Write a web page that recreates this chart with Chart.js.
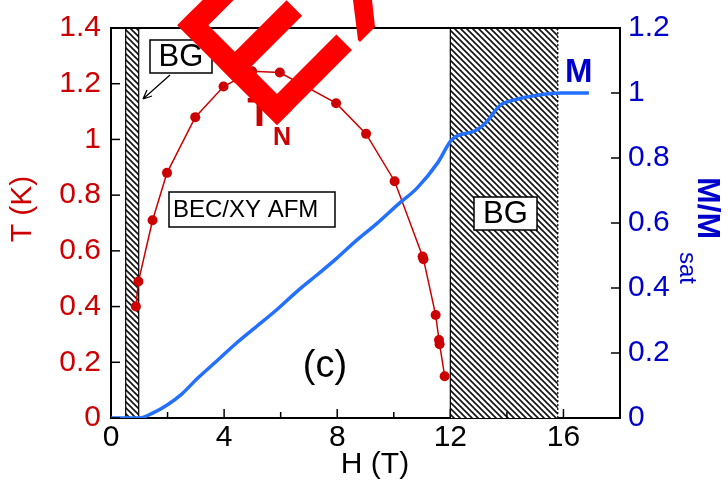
<!DOCTYPE html>
<html>
<head>
<meta charset="utf-8">
<script src="https://cdn.jsdelivr.net/npm/chart.js@4/dist/chart.umd.min.js"></script>
<style>
  body { margin: 0; background: #fff; }
  canvas { display: block; }
</style>
</head>
<body>
<canvas id="phaseChart" width="728" height="485"></canvas>
<script>
// Néel temperature points, T_N (K) vs field H (T)
const fieldT = [0.88, 0.97, 1.47, 1.98, 2.98, 3.98, 4.99, 5.97, 7.96, 9.02, 10.03, 11.02, 11.05, 11.48, 11.6, 11.62, 11.8];
const tempT  = [0.40, 0.49, 0.71, 0.88, 1.08, 1.19, 1.245, 1.24, 1.13, 1.02, 0.85, 0.58, 0.57, 0.37, 0.28, 0.265, 0.15];

// magnetization curve, M/Msat vs H (T)
const fieldM = [0, 1.0, 1.47, 2.0, 2.48, 3.07, 3.72, 4.43, 5.14, 5.86, 6.57, 7.28, 7.99, 8.7, 9.41, 10.12, 10.83, 11.55, 12.05, 12.93, 13.28, 13.76, 14.24, 15.07, 15.89, 16.9];
const magM   = [0, 0, 0.015, 0.041, 0.072, 0.123, 0.174, 0.230, 0.281, 0.333, 0.389, 0.440, 0.492, 0.548, 0.599, 0.655, 0.708, 0.785, 0.856, 0.886, 0.911, 0.962, 0.978, 0.993, 1.0, 1.0];

// Bose glass field ranges (T)
const bgRegions = [[0.52, 0.98], [12.0, 15.8]];

const xMajor = [0, 4, 8, 12, 16];

const FONT = "'Liberation Sans', Arial, sans-serif";
const RED = '#cc0000';
const BLUE = '#0000cc';

// hatch tile for the BG bands
function makeHatch() {
    const c = document.createElement('canvas');
    c.width = 6; c.height = 6;
    const g = c.getContext('2d');
    g.fillStyle = '#fff';
    g.fillRect(0, 0, 6, 6);
    g.strokeStyle = '#111';
    g.lineWidth = 1.6;
    for (let k = -1; k <= 1; k++) {
        g.beginPath();
        g.moveTo(k * 6 - 1, -1);
        g.lineTo(k * 6 + 7, 7);
        g.stroke();
    }
    return c;
}
const hatchTile = makeHatch();

function boxText(ctx, x, y, w, h, text, size, align) {
    ctx.fillStyle = '#fff';
    ctx.fillRect(x, y, w, h);
    ctx.strokeStyle = '#000';
    ctx.lineWidth = 1.5;
    ctx.strokeRect(x, y, w, h);
    ctx.fillStyle = '#000';
    ctx.font = size + 'px ' + FONT;
    ctx.textBaseline = 'middle';
    if (align === 'left') {
        ctx.textAlign = 'left';
        ctx.fillText(text, x + 4, y + h / 2 + 1);
    } else {
        ctx.textAlign = 'center';
        ctx.fillText(text, x + w / 2, y + h / 2 + 1);
    }
}

const bandsPlugin = {
    id: 'bands',
    beforeDatasetsDraw(chart) {
        const ctx = chart.ctx;
        const a = chart.chartArea;
        const xs = chart.scales.x;
        ctx.save();
        const pat = ctx.createPattern(hatchTile, 'repeat');
        bgRegions.forEach((r, i) => {
            const x0 = xs.getPixelForValue(r[0]);
            const x1 = xs.getPixelForValue(r[1]);
            ctx.fillStyle = pat;
            ctx.fillRect(x0, a.top, x1 - x0, a.bottom - a.top);
            ctx.strokeStyle = '#000';
            ctx.lineWidth = 1.2;
            ctx.beginPath();
            ctx.moveTo(x0, a.top); ctx.lineTo(x0, a.bottom);
            ctx.stroke();
            if (i === 1) ctx.setLineDash([2, 2]);
            ctx.beginPath();
            ctx.moveTo(x1, a.top); ctx.lineTo(x1, a.bottom);
            ctx.stroke();
            ctx.setLineDash([]);
        });
        ctx.restore();
    },
    afterDraw(chart) {
        const ctx = chart.ctx;
        const a = chart.chartArea;
        const {x: xs, y: ys, y1: ys1} = chart.scales;
        ctx.save();

        // frame top line
        ctx.strokeStyle = '#000';
        ctx.lineWidth = 2;
        ctx.beginPath();
        ctx.moveTo(a.left, a.top); ctx.lineTo(a.right, a.top);
        ctx.stroke();

        // inward tick marks
        ctx.lineWidth = 1.5;
        xs.ticks.forEach(t => {
            if (t.value <= 0 || t.value >= 18) return;
            const px = xs.getPixelForValue(t.value);
            const len = xMajor.includes(t.value) ? 9 : 6;
            ctx.beginPath(); ctx.moveTo(px, a.bottom); ctx.lineTo(px, a.bottom - len); ctx.stroke();
        });
        ys.ticks.forEach(t => {
            const py = ys.getPixelForValue(t.value);
            ctx.beginPath(); ctx.moveTo(a.left, py); ctx.lineTo(a.left + 9, py); ctx.stroke();
        });
        ys1.ticks.forEach(t => {
            const py = ys1.getPixelForValue(t.value);
            ctx.beginPath(); ctx.moveTo(a.right, py); ctx.lineTo(a.right - 9, py); ctx.stroke();
        });

        // annotation boxes
        boxText(ctx, 150, 40, 62, 33, 'BG', 31);
        boxText(ctx, 169, 192, 166, 35, 'BEC/XY AFM', 24, 'left');
        boxText(ctx, 474, 197, 63, 33, 'BG', 31);

        // arrow to the low-field BG band
        ctx.strokeStyle = '#000';
        ctx.lineWidth = 1.3;
        ctx.beginPath();
        ctx.moveTo(170, 75); ctx.lineTo(143, 99);
        ctx.moveTo(143, 99); ctx.lineTo(147, 90);
        ctx.moveTo(143, 99); ctx.lineTo(152, 96);
        ctx.stroke();

        // panel label
        ctx.fillStyle = '#000';
        ctx.font = '38px ' + FONT;
        ctx.textAlign = 'center';
        ctx.textBaseline = 'middle';
        ctx.fillText('(c)', 325, 367);

        // axis titles
        ctx.font = '30px ' + FONT;
        ctx.fillText('H (T)', 375, 465);

        ctx.save();
        ctx.translate(23, 209);
        ctx.rotate(-Math.PI / 2);
        ctx.fillStyle = RED;
        ctx.fillText('T (K)', 0, 0);
        ctx.restore();

        ctx.save();
        ctx.translate(698, 177);
        ctx.rotate(Math.PI / 2);
        ctx.fillStyle = BLUE;
        ctx.textAlign = 'left';
        ctx.textBaseline = 'alphabetic';
        ctx.font = 'bold 32px ' + FONT;
        ctx.fillText('M/M', 0, 0);
        ctx.font = '24px ' + FONT;
        ctx.fillText('sat', 75, 18);
        ctx.restore();

        // curve labels
        ctx.textBaseline = 'alphabetic';
        ctx.fillStyle = BLUE;
        ctx.textAlign = 'left';
        ctx.font = 'bold 33px ' + FONT;
        ctx.fillText('M', 565, 82);

        ctx.fillStyle = RED;
        ctx.textAlign = 'center';
        ctx.font = 'bold 40px ' + FONT;
        ctx.fillText('T', 259.5, 126);
        ctx.textAlign = 'left';
        ctx.font = 'bold 25px ' + FONT;
        ctx.fillText('N', 273, 145);

        // red stamp overlay (partly cut off at the top)
        ctx.fillStyle = '#ff0000';
        ctx.save();
        ctx.translate(277, 125);
        ctx.rotate(-Math.PI / 4);
        ctx.fillRect(0, -141, 22, 141);
        ctx.fillRect(0, -22, 106, 22);
        ctx.fillRect(0, -81.5, 95, 22);
        ctx.fillRect(0, -141, 106, 22);
        ctx.restore();
        ctx.beginPath();
        ctx.moveTo(353, 0); ctx.lineTo(372, 0); ctx.lineTo(375, 27); ctx.lineTo(360, 42); ctx.lineTo(358, 40);
        ctx.closePath();
        ctx.fill();

        ctx.restore();
    }
};

const ctx = document.getElementById('phaseChart').getContext('2d');
const myChart = new Chart(ctx, {
    type: 'scatter',
    data: {
        datasets: [{
            label: 'M',
            data: fieldM.map((h, i) => ({x: h, y: magM[i]})),
            yAxisID: 'y1',
            showLine: true,
            borderColor: '#2370ff',
            borderWidth: 3.5,
            pointRadius: 0,
            cubicInterpolationMode: 'monotone'
        }, {
            label: 'T_N',
            data: fieldT.map((h, i) => ({x: h, y: tempT[i]})),
            yAxisID: 'y',
            showLine: true,
            borderColor: RED,
            backgroundColor: RED,
            borderWidth: 1.5,
            pointRadius: 5,
            pointBorderWidth: 0
        }]
    },
    options: {
        responsive: false,
        animation: false,
        devicePixelRatio: 1,
        layout: { padding: { top: 27, left: 0, right: 0, bottom: 0 } },
        plugins: { legend: { display: false }, tooltip: { enabled: false } },
        scales: {
            x: {
                type: 'linear',
                min: 0, max: 18,
                grid: { display: false, drawTicks: false },
                border: { display: true, color: '#000', width: 2 },
                ticks: {
                    stepSize: 2,
                    autoSkip: false,
                    maxRotation: 0,
                    padding: 2,
                    color: '#000',
                    font: { family: FONT, size: 30 },
                    callback: v => (xMajor.includes(v) ? String(v) : '')
                },
                afterFit: s => { s.height = 67; }
            },
            y: {
                position: 'left',
                min: 0, max: 1.4,
                grid: { display: false, drawTicks: false },
                border: { display: true, color: '#000', width: 2 },
                ticks: {
                    stepSize: 0.2,
                    padding: 10,
                    color: RED,
                    font: { family: FONT, size: 30 },
                    callback: v => String(Math.round(v * 10) / 10)
                },
                afterFit: s => { s.width = 111; }
            },
            y1: {
                position: 'right',
                min: 0, max: 1.2,
                grid: { display: false, drawTicks: false },
                border: { display: true, color: '#000', width: 2 },
                ticks: {
                    stepSize: 0.2,
                    padding: 8,
                    color: BLUE,
                    font: { family: FONT, size: 30 },
                    callback: v => String(Math.round(v * 10) / 10)
                },
                afterFit: s => { s.width = 108; }
            }
        }
    },
    plugins: [bandsPlugin]
});
</script>
</body>
</html>
